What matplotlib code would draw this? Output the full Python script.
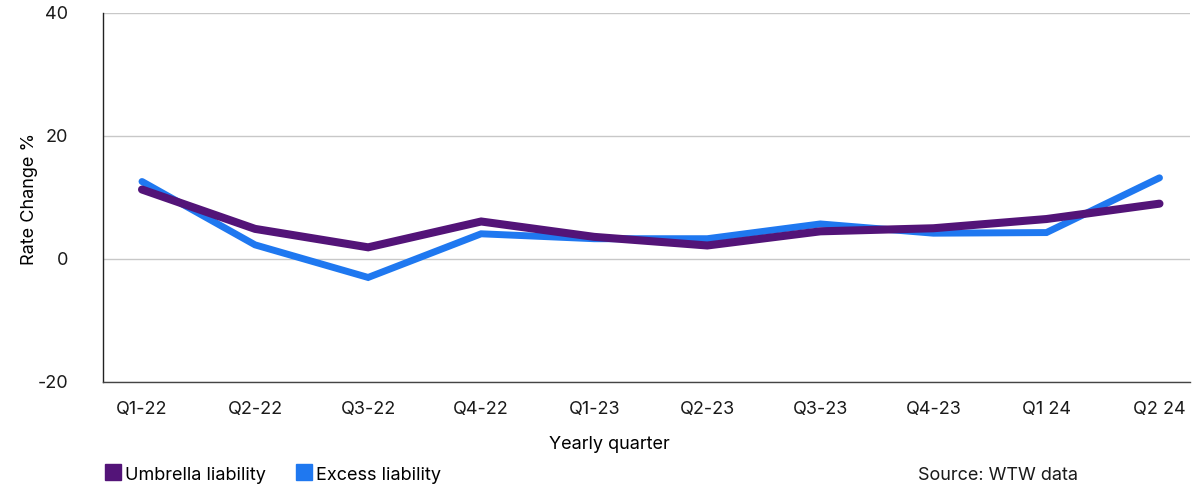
import matplotlib.pyplot as plt
from matplotlib.lines import Line2D

plt.rcParams['font.family'] = ['Inter', 'DejaVu Sans']
plt.rcParams['axes.unicode_minus'] = False

quarters = ['Q1-22', 'Q2-22', 'Q3-22', 'Q4-22', 'Q1-23', 'Q2-23',
            'Q3-23', 'Q4-23', 'Q1 24', 'Q2 24']
umbrella = [11.3, 4.9, 1.9, 6.1, 3.6, 2.2, 4.5, 5.0, 6.5, 9.0]
excess = [12.6, 2.3, -3.0, 4.1, 3.3, 3.3, 5.7, 4.2, 4.3, 13.2]
y_ticks = [-20, 0, 20, 40]

purple = '#531478'
blue = '#1f78f0'
FS = 13

fig = plt.figure(figsize=(11.99, 4.85), dpi=100)
ax = fig.add_axes([0.0859, 0.2103, 0.9066, 0.7608])

x = range(len(quarters))
ax.plot(x, excess, color=blue, lw=5, solid_capstyle='round',
        solid_joinstyle='miter', zorder=3)
ax.plot(x, umbrella, color=purple, lw=5.8, solid_capstyle='round',
        solid_joinstyle='miter', zorder=4)

ax.set_xlim(-0.345, 9.27)
ax.set_ylim(-20, 40)
ax.set_yticks(y_ticks)
ax.set_xticks(list(x))
ax.set_xticklabels(quarters)
ax.tick_params(axis='both', length=0, labelsize=FS, colors='#1a1a1a')
ax.tick_params(axis='y', pad=25)
ax.tick_params(axis='x', pad=13)
for lab in ax.get_yticklabels():
    lab.set_verticalalignment('center')

ax.grid(axis='y', color='#c8c8c8', lw=1)
ax.set_axisbelow(True)
for s in ['top', 'right']:
    ax.spines[s].set_visible(False)
ax.spines['left'].set_color('#222222')
ax.spines['bottom'].set_color('#444444')
ax.spines['left'].set_linewidth(1)
ax.spines['bottom'].set_linewidth(1)

ax.set_ylabel('Rate Change %', fontsize=FS)
ax.set_xlabel('Yearly quarter', fontsize=FS)
ax.yaxis.set_label_coords(-0.06, 0.5)
ax.xaxis.set_label_coords(0.4655, -0.144)

handles = [Line2D([], [], marker='s', ls='none', color=purple, markersize=11),
           Line2D([], [], marker='s', ls='none', color=blue, markersize=11)]
fig.legend(handles, ['Umbrella liability', 'Excess liability'],
           loc='center left', bbox_to_anchor=(0.072, 0.02), ncol=2,
           frameon=False, fontsize=FS, handletextpad=0.05,
           columnspacing=1.5, handlelength=1.2)

fig.text(0.832, 0.02, 'Source: WTW data', ha='center', va='center',
         fontsize=FS, color='#1a1a1a')

fig.savefig('out.png', dpi=100)
